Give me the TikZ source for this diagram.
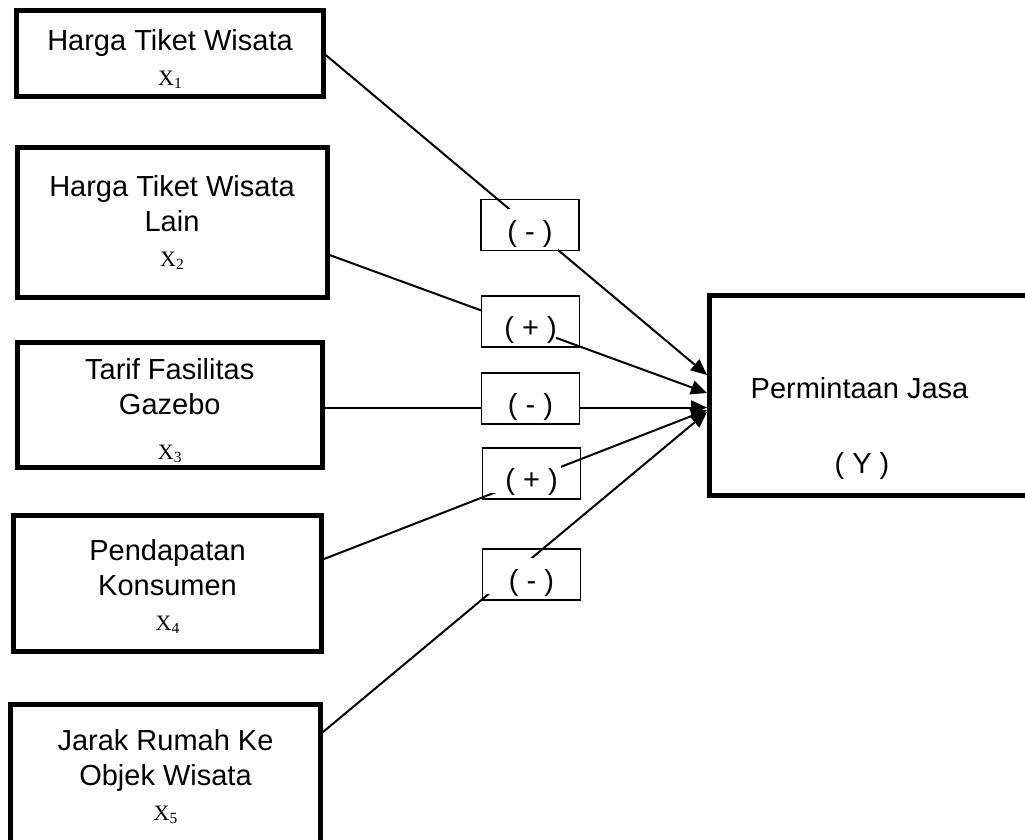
\documentclass[tikz,border=0pt]{standalone}
\usepackage[no-math]{fontspec}
\setmainfont{Liberation Sans}
\newfontfamily\xfont{Liberation Serif}
\usetikzlibrary{arrows.meta,backgrounds}

\newcommand{\xvar}[1]{{\xfont\fontsize{22}{35}\selectfont X\raisebox{-3pt}{\fontsize{15.5}{15.5}\selectfont #1}}}
\newcommand{\toprule}[1]{\rule{0pt}{#1}}

\begin{document}
\begin{tikzpicture}[x=1pt,y=-1pt,
        varbox/.style={draw, line width=5pt, align=center, inner sep=0pt,
            font=\fontsize{29}{35}\selectfont},
        signbox/.style={draw, line width=1.7pt, minimum width=98pt, minimum height=51pt,
            inner sep=0pt, text height=34pt, text depth=2pt,
            font=\fontsize{29}{35}\selectfont},
        conn/.style={line width=2pt, -{Triangle[length=16pt,width=14pt]}}]

    \clip (0,0) rectangle (1025,839);

    \node[varbox, minimum width=306.5pt, minimum height=86pt] (x1) at (170,53.5)
        {\toprule{31pt}Harga Tiket Wisata\\\xvar{1}};
    \node[varbox, minimum width=310pt, minimum height=150pt] (x2) at (172,222.5)
        {Harga Tiket Wisata\\Lain\\\xvar{2}};
    \node[varbox, minimum width=305.5pt, minimum height=125pt] (x3) at (169.75,405)
        {\toprule{32pt}Tarif Fasilitas\\Gazebo\\[10pt]\xvar{3}};
    \node[varbox, minimum width=308pt, minimum height=136pt] (x4) at (167.5,583.5)
        {\toprule{26pt}Pendapatan\\Konsumen\\\xvar{4}};
    \node[varbox, minimum width=310pt, minimum height=145pt] (x5) at (165.5,777)
        {Jarak Rumah Ke\\Objek Wisata\\\xvar{5}};

    \node[varbox, minimum width=340pt, minimum height=200pt] (y) at (879.5,395.5) {};
    \node[anchor=base, font=\fontsize{29}{35}\selectfont] (yname) at (859.5,398) {Permintaan Jasa};
    \node[anchor=base, font=\fontsize{29}{35}\selectfont] (ysym) at (862,473) {( Y )};

    \node[signbox] (s1) at (530,225) {( - )};
    \node[signbox] (s2) at (530.5,321.5) {( + )};
    \node[signbox, fill=white] (s3) at (530.5,398.5) {( - )};
    \node[signbox] (s4) at (531.5,473.5) {( + )};
    \node[signbox] (s5) at (531.5,574.5) {( - )};

    \begin{pgfonlayer}{background}
        \draw[conn] ([yshift=-1.5pt]x1.east) -- ([yshift=20.5pt]y.west);
        \draw[conn] ([yshift=-32.5pt]x2.east) -- ([yshift=2.5pt]y.west);
        \draw[conn] ([yshift=-2.5pt]x3.east) -- ([yshift=-12pt]y.west);
        \draw[conn] ([yshift=24.5pt]x4.east) -- ([yshift=-14.5pt]y.west);
        \draw[conn] ([yshift=45pt]x5.east) -- ([yshift=-16.5pt]y.west);

        \fill[white] ([yshift=-10pt]s1.north west) rectangle ([xshift=-22pt]s1.south east);
        \fill[white] ([yshift=-10pt]s2.north west) rectangle ([xshift=-24pt,yshift=7pt]s2.south east);
        \fill[white] ([yshift=-10pt]s4.north west) rectangle ([xshift=-20pt,yshift=7pt]s4.south east);
        \fill[white] ([yshift=-10pt]s5.north west) rectangle ([xshift=-20pt,yshift=7pt]s5.south east);
    \end{pgfonlayer}
\end{tikzpicture}
\end{document}
